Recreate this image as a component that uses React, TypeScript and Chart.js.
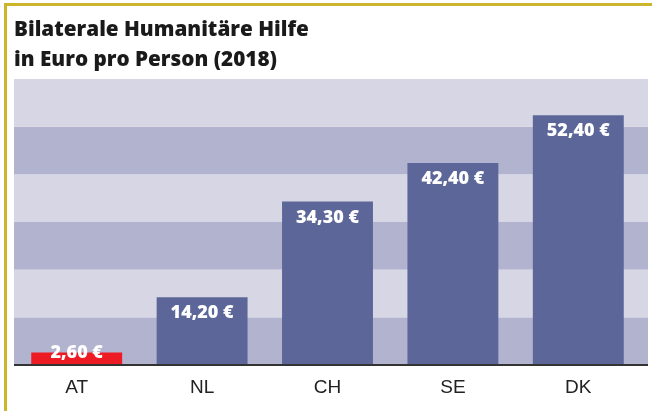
import React, { useEffect, useRef } from "react";
import { Chart, registerables } from "chart.js";

Chart.register(...registerables);

const titleLines = ["Bilaterale Humanitäre Hilfe", "in Euro pro Person (2018)"];
const categories = ["AT", "NL", "CH", "SE", "DK"];
const values = [2.6, 14.2, 34.3, 42.4, 52.4];
const valueLabels = ["2,60 €", "14,20 €", "34,30 €", "42,40 €", "52,40 €"];
const highlightCategory = "AT";
const yMin = 0;
const yMax = 60;
const bandStep = 10;

const BAR = "#5c6699";
const RED = "#ed1c24";
const BAND_LIGHT = "#d6d6e4";
const BAND_DARK = "#b2b3cf";
const YELLOW = "#cbb52c";
const HEAD_FONT = "'Open Sans', sans-serif";

const backgroundPlugin = {
  id: "bgBands",
  beforeDraw(chart: any) {
    const { ctx, chartArea, scales } = chart;
    const y = scales.y;
    ctx.save();
    ctx.fillStyle = "#ffffff";
    ctx.fillRect(0, 0, chart.width, chart.height);
    ctx.fillStyle = YELLOW;
    ctx.fillRect(4, 3, chart.width - 4, 3);
    ctx.fillRect(4, 3, 3, chart.height - 3);
    const right = chartArea.right + 7;
    let i = 0;
    for (let v = yMin; v < yMax; v += bandStep, i++) {
      const y1 = y.getPixelForValue(v);
      const y2 = y.getPixelForValue(v + bandStep);
      ctx.fillStyle = i % 2 === 0 ? BAND_DARK : BAND_LIGHT;
      ctx.fillRect(chartArea.left, y2, right - chartArea.left, y1 - y2);
    }
    ctx.restore();
  },
  afterDatasetsDraw(chart: any) {
    const { ctx, chartArea } = chart;
    const meta = chart.getDatasetMeta(0);
    ctx.save();
    ctx.strokeStyle = "#333333";
    ctx.lineWidth = 2;
    ctx.beginPath();
    ctx.moveTo(chartArea.left, chartArea.bottom);
    ctx.lineTo(chartArea.right + 7, chartArea.bottom);
    ctx.stroke();
    ctx.fillStyle = "#ffffff";
    ctx.font = "800 18px " + HEAD_FONT;
    ctx.textAlign = "center";
    ctx.textBaseline = "middle";
    meta.data.forEach((bar: any, idx: number) => {
      const ty = Math.min(bar.y + 16, bar.base - 12);
      ctx.fillText(valueLabels[idx], bar.x, ty);
    });
    ctx.restore();
  },
};

export default function App() {
  const ref = useRef<HTMLCanvasElement | null>(null);
  useEffect(() => {
    if (!ref.current) return;
    const chart = new Chart(ref.current, {
      type: "bar",
      data: {
        labels: categories,
        datasets: [
          {
            data: values,
            backgroundColor: categories.map((c) => (c === highlightCategory ? RED : BAR)),
            borderWidth: 0,
            categoryPercentage: 1,
            barPercentage: 0.725,
          },
        ],
      },
      options: {
        responsive: false,
        animation: false,
        layout: { padding: { left: 14, right: 11, top: 0, bottom: 2 } },
        plugins: {
          legend: { display: false },
          tooltip: { enabled: false },
          title: {
            display: true,
            text: titleLines,
            align: "start",
            color: "#1a1a1a",
            font: { family: HEAD_FONT, size: 20.7, weight: "800", lineHeight: 30 / 20.7 },
            padding: { top: 15, bottom: 4 },
          },
        },
        scales: {
          x: {
            afterFit(scale: any) {
              scale.height = 44;
            },
            grid: { display: false, drawTicks: false },
            border: { display: false },
            ticks: {
              color: "#222222",
              padding: 11.5,
              font: { family: "'Liberation Sans Narrow', 'Liberation Sans', sans-serif", size: 19 },
            },
          },
          y: {
            display: false,
            min: yMin,
            max: yMax,
          },
        },
      },
      plugins: [backgroundPlugin],
    });
    return () => chart.destroy();
  }, []);
  return (
    <div style={{ position: "absolute", left: 0, top: 0, width: 652, height: 411 }}>
      <canvas ref={ref} width={652} height={411} style={{ display: "block" }} />
    </div>
  );
}
